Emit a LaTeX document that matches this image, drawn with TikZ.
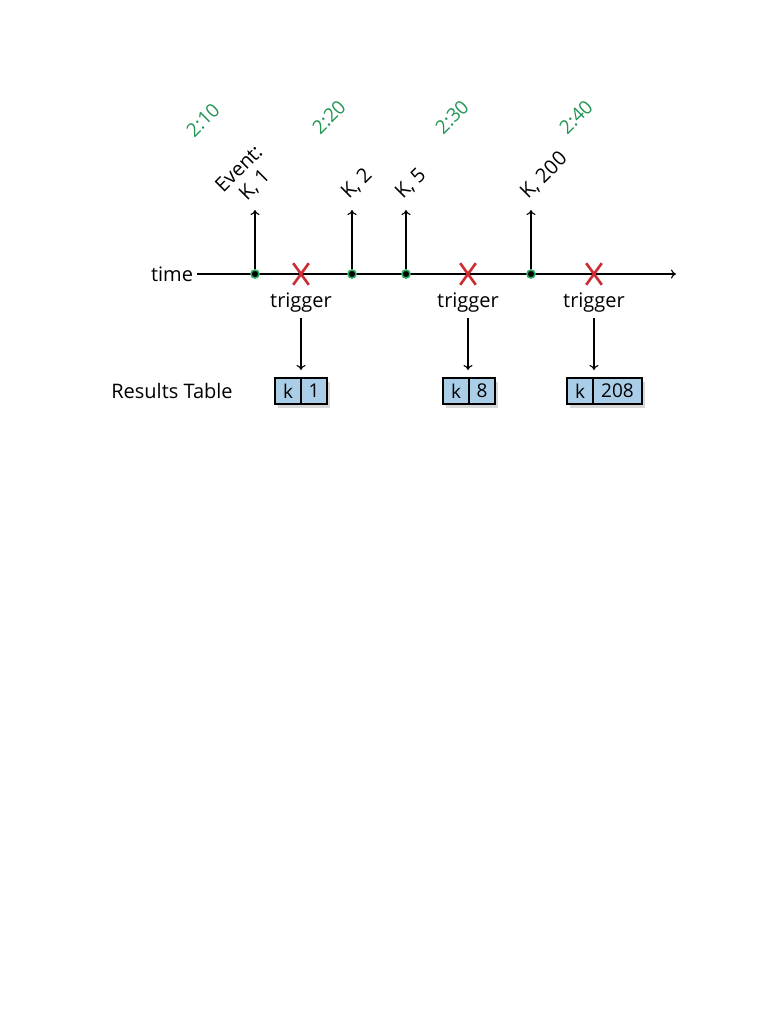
\documentclass[tikz,border=0pt]{standalone}
\usepackage{fontspec}
\setmainfont{Open Sans}
\usetikzlibrary{arrows.meta,shapes.misc,shadows,positioning}
\definecolor{timegreen}{RGB}{35,150,85}
\definecolor{dotgreen}{RGB}{40,170,95}
\definecolor{xred}{RGB}{205,45,50}
\definecolor{cellblue}{RGB}{170,205,232}
\begin{document}
\begin{tikzpicture}[x=1pt, y=-1pt, line width=1.1pt, >={To[length=5pt,width=9pt]},
  lbl/.style = {font=\fontsize{20}{22}\selectfont, inner sep=1pt},
  evlbl/.style = {lbl, rotate=45, anchor=south west},
  tlbl/.style = {font=\fontsize{19}{22}\selectfont, text=timegreen, rotate=45, inner sep=0pt},
  evdot/.style = {circle, fill=black, draw=dotgreen, line width=1.6pt, inner sep=0pt, minimum size=8pt},
  trig/.style = {cross out, draw=xred, line width=2.6pt, minimum width=13pt, minimum height=19pt, inner sep=0pt},
  cell/.style = {draw, line width=1.8pt, fill=cellblue, minimum width=26pt, minimum height=26pt, inner sep=0pt, outer sep=0pt, font=\fontsize{19}{21}\selectfont, drop shadow={shadow xshift=3pt, shadow yshift=-4pt, opacity=0.3}}]
  \useasboundingbox (0,0) rectangle (781,1011);
  \fill[white] (0,0) rectangle (781,1011);
  % time axis
  \coordinate (tstart) at (197,274);
  \coordinate (tend) at (676,274);
  \draw[->] (tstart) -- (tend);
  \node[lbl, anchor=base] (time) at (172,281) {time};
  % clock labels
  \foreach \x/\y/\t [count=\i] in {203/120/2:10, 329/117/2:20, 452/117/2:30, 576/117/2:40}
    \node[tlbl] (clock\i) at (\x,\y) {\t};
  % events
  \node[evdot] (d1) at (255,274) {};
  \node[evdot] (d2) at (352,274) {};
  \node[evdot] (d3) at (406,274) {};
  \node[evdot] (d4) at (531,274) {};
  \coordinate (e1) at (255,210);
  \coordinate (e2) at (352,210);
  \coordinate (e3) at (406,210);
  \coordinate (e4) at (531,210);
  \draw[->] (d1) -- (e1);
  \draw[->] (d2) -- (e2);
  \draw[->] (d3) -- (e3);
  \draw[->] (d4) -- (e4);
  \node[lbl, rotate=45, anchor=south, align=center] (l1) at (262,192) {Event:\\K, 1};
  \node[evlbl] (l2) at ([shift={(-1,-6)}]e2) {K, 2};
  \node[evlbl] (l3) at ([shift={(-1,-6)}]e3) {K, 5};
  \node[evlbl] (l4) at ([shift={(-1,-6)}]e4) {K, 200};
  % triggers
  \node[trig] (x1) at (301,274) {};
  \node[trig] (x2) at (468,274) {};
  \node[trig] (x3) at (594,274) {};
  \node[lbl, anchor=base] (tg1) at (301,307) {trigger};
  \node[lbl, anchor=base] (tg2) at (468,307) {trigger};
  \node[lbl, anchor=base] (tg3) at (594,307) {trigger};
  % results table
  \node[lbl, anchor=base] (res) at (172,398) {Results Table};
  \node[cell] (k1) at (288,391) {k};
  \node[cell, right=0pt of k1] (v1) {1};
  \node[cell] (k2) at (456,391) {k};
  \node[cell, right=0pt of k2] (v2) {8};
  \node[cell] (k3) at (580,391) {k};
  \node[cell, minimum width=49pt, right=0pt of k3] (v3) {208};
  \draw[->, shorten <=5pt, shorten >=8pt] (tg1.south) -- (tg1.south |- k1.north);
  \draw[->, shorten <=5pt, shorten >=8pt] (tg2.south) -- (tg2.south |- k2.north);
  \draw[->, shorten <=5pt, shorten >=8pt] (tg3.south) -- (tg3.south |- k3.north);
\end{tikzpicture}
\end{document}
